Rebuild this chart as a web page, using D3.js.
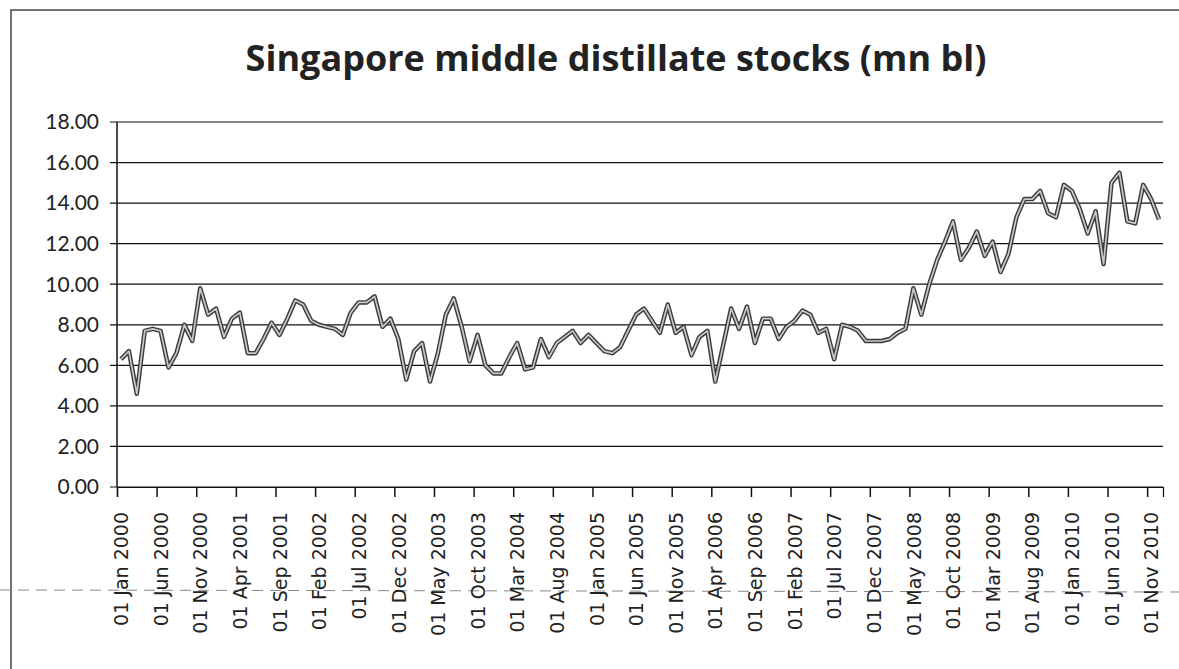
<!DOCTYPE html>
<html>
<head>
<meta charset="utf-8">
<title>Singapore middle distillate stocks</title>
<script src="https://cdn.jsdelivr.net/npm/d3@7"></script>
<style>
  body { margin: 0; background: #fff; }
  svg { display: block; }
</style>
</head>
<body>
<div id="chart"></div>
<script>
// monthly stocks, Jan 2000 .. Dec 2010 (mn bl)
var startMonth = "2000-01";
var stocks = [
  6.3, 6.7, 4.6, 7.7, 7.8, 7.7, 5.9, 6.6, 8.0, 7.2, 9.8, 8.5,
  8.8, 7.4, 8.3, 8.6, 6.6, 6.6, 7.3, 8.1, 7.5, 8.3, 9.2, 9.0,
  8.2, 8.0, 7.9, 7.8, 7.5, 8.6, 9.1, 9.1, 9.4, 7.9, 8.3, 7.3,
  5.3, 6.7, 7.1, 5.2, 6.6, 8.5, 9.3, 7.9, 6.2, 7.5, 6.0, 5.6,
  5.6, 6.4, 7.1, 5.8, 5.9, 7.3, 6.4, 7.1, 7.4, 7.7, 7.1, 7.5,
  7.1, 6.7, 6.6, 6.9, 7.7, 8.5, 8.8, 8.2, 7.6, 9.0, 7.6, 7.9,
  6.5, 7.4, 7.7, 5.2, 7.0, 8.8, 7.8, 8.9, 7.1, 8.3, 8.3, 7.3,
  7.9, 8.2, 8.7, 8.5, 7.6, 7.8, 6.3, 8.0, 7.9, 7.7, 7.2, 7.2,
  7.2, 7.3, 7.6, 7.8, 9.8, 8.5, 10.0, 11.2, 12.1, 13.1, 11.2, 11.8,
  12.6, 11.4, 12.1, 10.6, 11.5, 13.3, 14.2, 14.2, 14.6, 13.5, 13.3, 14.9,
  14.6, 13.7, 12.5, 13.6, 11.0, 15.0, 15.5, 13.1, 13.0, 14.9, 14.2, 13.2
];
var tickLabels = [
  "01 Jan 2000", "01 Jun 2000", "01 Nov 2000", "01 Apr 2001", "01 Sep 2001",
  "01 Feb 2002", "01 Jul 2002", "01 Dec 2002", "01 May 2003", "01 Oct 2003",
  "01 Mar 2004", "01 Aug 2004", "01 Jan 2005", "01 Jun 2005", "01 Nov 2005",
  "01 Apr 2006", "01 Sep 2006", "01 Feb 2007", "01 Jul 2007", "01 Dec 2007",
  "01 May 2008", "01 Oct 2008", "01 Mar 2009", "01 Aug 2009", "01 Jan 2010",
  "01 Jun 2010", "01 Nov 2010"
];
var tickEvery = 5;
var yTicks = [0, 2, 4, 6, 8, 10, 12, 14, 16, 18];

var W = 1179, H = 669;
var plotL = 117, plotR = 1163, plotT = 122, plotB = 487;

var svg = d3.select("#chart").append("svg")
  .attr("width", W)
  .attr("height", H);

// scan border + stray dashed line
svg.append("path")
  .attr("d", "M11," + H + "V10H" + (W + 5))
  .attr("fill", "none")
  .attr("stroke", "#444")
  .attr("stroke-width", 1.5);
svg.append("line")
  .attr("x1", 0).attr("x2", W)
  .attr("y1", 590).attr("y2", 592)
  .attr("stroke", "#888")
  .attr("stroke-dasharray", "11,7");

var x = d3.scaleLinear().domain([0, stocks.length]).range([plotL, plotR]);
var y = d3.scaleLinear().domain([0, 18]).range([plotB, plotT]);

// title
svg.append("text")
  .attr("x", 616)
  .attr("y", 71)
  .attr("text-anchor", "middle")
  .style("font-family", "'Open Sans', Lato, sans-serif")
  .style("font-weight", "bold")
  .style("font-size", "36px")
  .style("fill", "#222")
  .text("Singapore middle distillate stocks (mn bl)");

// gridlines
svg.selectAll(".grid")
  .data(yTicks)
  .enter().append("line")
  .attr("class", "grid")
  .attr("x1", plotL - 7)
  .attr("x2", plotR)
  .attr("y1", function(d) { return y(d); })
  .attr("y2", function(d) { return y(d); })
  .attr("stroke", "#111")
  .attr("stroke-width", 1.2);

// y labels
svg.selectAll(".ylab")
  .data(yTicks)
  .enter().append("text")
  .attr("class", "ylab")
  .attr("x", 99)
  .attr("y", function(d) { return y(d); })
  .attr("dy", "0.35em")
  .attr("text-anchor", "end")
  .style("font-family", "Lato, 'Open Sans', sans-serif")
  .style("font-size", "21px")
  .style("fill", "#222")
  .text(function(d) { return d3.format(".2f")(d); });

// y axis line
svg.append("line")
  .attr("x1", plotL).attr("x2", plotL)
  .attr("y1", plotT).attr("y2", plotB)
  .attr("stroke", "#111")
  .attr("stroke-width", 1.5);

// x axis ticks + labels
var tickIdx = tickLabels.map(function(d, i) { return i * tickEvery; });
var xAxis = d3.axisBottom(x)
  .tickValues(tickIdx)
  .tickSize(10)
  .tickFormat(function(d, i) { return tickLabels[i]; });

var gx = svg.append("g")
  .attr("transform", "translate(0," + plotB + ")")
  .call(xAxis);
gx.select(".domain").attr("stroke", "#111").attr("stroke-width", 1.2);
gx.selectAll(".tick line").attr("stroke", "#111").attr("stroke-width", 1.5);
gx.selectAll(".tick text")
  .attr("transform", "rotate(-90)")
  .attr("x", -25)
  .attr("y", 4)
  .attr("dy", "0.35em")
  .attr("text-anchor", "end")
  .style("font-family", "'DejaVu Sans', sans-serif")
  .style("font-size", "19px")
  .style("fill", "#222");

// the series: dark outline with light core
var line = d3.line()
  .x(function(d, i) { return x(i + 0.5); })
  .y(function(d) { return y(d); });

svg.append("path")
  .datum(stocks)
  .attr("d", line)
  .attr("fill", "none")
  .attr("stroke", "#3a3a3a")
  .attr("stroke-width", 4.5)
  .attr("stroke-linejoin", "round");
svg.append("path")
  .datum(stocks)
  .attr("d", line)
  .attr("fill", "none")
  .attr("stroke", "#c8c8c8")
  .attr("stroke-width", 1.7)
  .attr("stroke-linejoin", "round");
</script>
</body>
</html>
